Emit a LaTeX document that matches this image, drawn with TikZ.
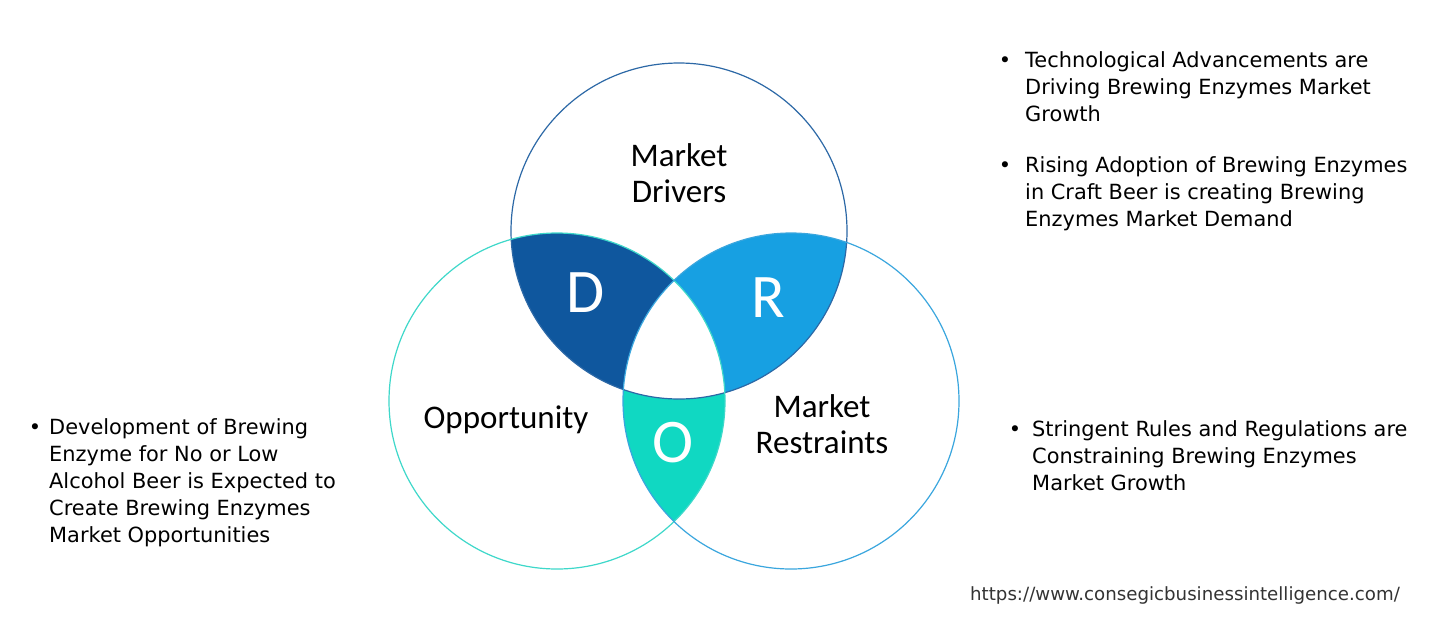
\documentclass[tikz,border=0pt]{standalone}
\usepackage{fontspec}
\setmainfont{DejaVu Sans}
\newfontfamily\carlito{Carlito}
\definecolor{cD}{HTML}{0F579E}
\definecolor{cR}{HTML}{17A0E2}
\definecolor{cO}{HTML}{10D8C2}
\definecolor{lTop}{HTML}{2C68A6}
\definecolor{lLeft}{HTML}{3ED8CA}
\definecolor{lRight}{HTML}{3AA6DE}
\definecolor{urlc}{HTML}{333333}
\newcommand{\blk}[1]{\vtop{#1}}
\tikzset{
  bullettext/.style={anchor=base west, inner sep=0pt, font=\fontsize{20.9}{27}\selectfont},
  bulletdot/.style={anchor=base, inner sep=0pt, font=\fontsize{20.9}{27}\selectfont},
  circlabel/.style={align=center, inner sep=0pt, font=\carlito\fontsize{33}{36}\selectfont},
  letter/.style={text=white, inner sep=0pt, font=\carlito\fontsize{62}{64}\selectfont},
}
\begin{document}
\begin{tikzpicture}[x=1pt,y=-1pt]
\useasboundingbox (0,0) rectangle (1453,643);
\fill[white] (0,0) rectangle (1453,643);
\def\R{168pt}
\coordinate (cT) at (679,231);
\coordinate (cL) at (557,401);
\coordinate (cR) at (791,401);
% D region
\begin{scope}
  \clip (cT) circle (\R);
  \clip (cL) circle (\R);
  \fill[cD] (0,0) rectangle (1453,643);
\end{scope}
% R region
\begin{scope}
  \clip (cT) circle (\R);
  \clip (cR) circle (\R);
  \fill[cR] (0,0) rectangle (1453,643);
\end{scope}
% O region
\begin{scope}
  \clip (cL) circle (\R);
  \clip (cR) circle (\R);
  \fill[cO] (0,0) rectangle (1453,643);
\end{scope}
% centre
\begin{scope}
  \clip (cT) circle (\R);
  \clip (cL) circle (\R);
  \clip (cR) circle (\R);
  \fill[white] (0,0) rectangle (1453,643);
\end{scope}
\draw[lTop, line width=1.2pt] (cT) circle (\R);
\draw[lLeft, line width=1.2pt] (cL) circle (\R);
\draw[lRight, line width=1.2pt] (cR) circle (\R);

\node[circlabel] (md) at (679,173) {Market\\Drivers};
\node[circlabel] (op) at (506,420) {Opportunity};
\node[circlabel] (mr) at (822,424) {Market\\Restraints};
\node[letter] (D) at (586,293) {D};
\node[letter] (Rl) at (768,298) {R};
\node[letter] (O) at (673,443) {O};

% right top bullets
\node[bulletdot] (b1) at (1005,67) {•};
\node[bullettext] (t1) at (1025,67) {\blk{\hbox{Technological Advancements are}\hbox{Driving Brewing Enzymes Market}\hbox{Growth}}};
\node[bulletdot] (b2) at (1005,172) {•};
\node[bullettext] (t2) at (1025,172) {\blk{\hbox{Rising Adoption of Brewing Enzymes}\hbox{in Craft Beer is creating Brewing}\hbox{Enzymes Market Demand}}};
% right lower
\node[bulletdot] (b3) at (1015,436) {•};
\node[bullettext] (t3) at (1032,436) {\blk{\hbox{Stringent Rules and Regulations are}\hbox{Constraining Brewing Enzymes}\hbox{Market Growth}}};
% left
\node[bulletdot] (b4) at (35,434) {•};
\node[bullettext] (t4) at (49,434) {\blk{\hbox{Development of Brewing}\hbox{Enzyme for No or Low}\hbox{Alcohol Beer is Expected to}\hbox{Create Brewing Enzymes}\hbox{Market Opportunities}}};
% url
\node[anchor=base east, inner sep=0pt, text=urlc, font=\fontsize{18.2}{20}\selectfont] (url) at (1400,600) {https://www.consegicbusinessintelligence.com/};
\end{tikzpicture}
\end{document}
